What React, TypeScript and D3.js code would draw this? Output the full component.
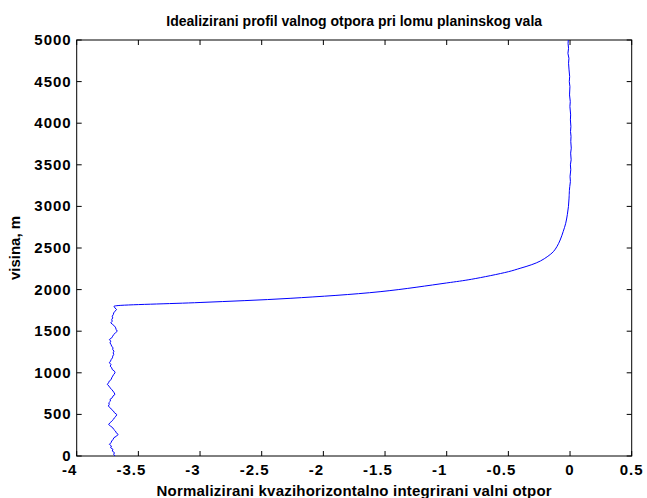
import * as d3 from 'd3';

// tick labels
const xTicks = [-4, -3.5, -3, -2.5, -2, -1.5, -1, -0.5, 0, 0.5];
const yTicks = [0, 500, 1000, 1500, 2000, 2500, 3000, 3500, 4000, 4500, 5000];

// lower, nearly constant part of the profile: height (m) every 20 m, normalized drag
const lowerHeight = d3.range(0, 1800, 20);
const lowerDrag = [
  -3.690, -3.700, -3.694, -3.712, -3.706, -3.725, -3.718, -3.735, -3.722, -3.716,
  -3.705, -3.698, -3.676, -3.664, -3.680, -3.686, -3.700, -3.708, -3.726, -3.742,
  -3.728, -3.716, -3.702, -3.694, -3.680, -3.676, -3.694, -3.702, -3.718, -3.728,
  -3.744, -3.736, -3.740, -3.726, -3.730, -3.712, -3.706, -3.690, -3.696, -3.706,
  -3.716, -3.730, -3.738, -3.752, -3.742, -3.736, -3.720, -3.716, -3.708, -3.700,
  -3.689, -3.694, -3.712, -3.716, -3.728, -3.722, -3.735, -3.726, -3.720, -3.710,
  -3.708, -3.700, -3.704, -3.698, -3.708, -3.706, -3.716, -3.722, -3.730, -3.724,
  -3.735, -3.716, -3.708, -3.700, -3.686, -3.671, -3.680, -3.684, -3.692, -3.708,
  -3.724, -3.712, -3.716, -3.708, -3.712, -3.703, -3.700, -3.690, -3.676, -3.690,
];

// transition above ~1800 m
const curveHeight = [1800, 1806, 1845, 1895, 1975, 2080, 2124, 2215, 2256, 2300, 2344, 2400, 2456, 2520, 2596, 2700, 2797, 2900, 2997, 3100, 3197];
const curveDrag = [-3.698, -3.68, -3.0, -2.27, -1.54, -1.0, -0.8, -0.5, -0.405, -0.31, -0.24, -0.18, -0.135, -0.105, -0.08, -0.055, -0.035, -0.022, -0.013, -0.008, -0.005];

// upper part, close to zero
const upperHeight = [3197, 3240, 3300, 3360, 3440, 3500, 3560, 3640, 3700, 3780, 3840, 3900, 3960, 4040, 4100, 4200, 4260, 4340, 4440, 4500, 4560, 4640, 4720, 4780, 4840, 4900, 4960, 5000];
const upperDrag = [-0.005, -0.002, 0.003, 0.0, 0.006, 0.003, 0.009, 0.005, 0.01, 0.006, 0.008, 0.004, 0.007, 0.003, 0.005, -0.001, 0.002, -0.004, -0.001, -0.006, -0.003, -0.008, -0.012, -0.009, -0.017, -0.012, -0.016, -0.014];

const title = 'Idealizirani profil valnog otpora pri lomu planinskog vala';
const xLabel = 'Normalizirani kvazihorizontalno integrirani valni otpor';
const yLabel = 'visina, m';

export default function App() {
  const width = 647;
  const height = 498;
  const margin = { top: 40, right: 15.3, bottom: 42, left: 76.7 };

  const x = d3.scaleLinear().domain([-4, 0.5]).range([margin.left, width - margin.right]);
  const y = d3.scaleLinear().domain([0, 5000]).range([height - margin.bottom, margin.top]);

  const pairs = (hs: number[], vs: number[]) => hs.map((h, i) => [vs[i], h] as [number, number]);

  const jagged = d3.line<[number, number]>()
    .x(d => x(d[0]))
    .y(d => y(d[1]));
  const smooth = d3.line<[number, number]>()
    .x(d => x(d[0]))
    .y(d => y(d[1]))
    .curve(d3.curveCatmullRom.alpha(0.5));

  const lowerPts = pairs(lowerHeight, lowerDrag);
  lowerPts.push([curveDrag[0], curveHeight[0]]);

  const [x0, x1] = x.range();
  const [y0, y1] = y.range();
  const tick = 5;
  const font = '"Liberation Sans", Arial, Helvetica, sans-serif';

  return (
    <div style={{ position: 'absolute', left: 0, top: 0 }}>
      <svg width={width} height={height} style={{ display: 'block', background: '#fff' }}>
        <rect x={x0} y={y1} width={x1 - x0} height={y0 - y1} fill="none" stroke="#000" strokeWidth={1} />

        {xTicks.map(t => (
          <g key={'x' + t}>
            <line x1={x(t)} x2={x(t)} y1={y0} y2={y0 - tick} stroke="#000" />
            <line x1={x(t)} x2={x(t)} y1={y1} y2={y1 + tick} stroke="#000" />
            <text x={x(t) + (t < 0 ? -7 : 0)} y={y0 + 19} textAnchor="middle"
              fontFamily={font} fontSize={15} fontWeight="bold" letterSpacing={1}>{String(t)}</text>
          </g>
        ))}

        {yTicks.map(t => (
          <g key={'y' + t}>
            <line x1={x0} x2={x0 + tick} y1={y(t)} y2={y(t)} stroke="#000" />
            <line x1={x1} x2={x1 - tick} y1={y(t)} y2={y(t)} stroke="#000" />
            <text x={x0 - 5} y={y(t)} dy="0.33em" textAnchor="end"
              fontFamily={font} fontSize={15} fontWeight="bold" letterSpacing={1}>{String(t)}</text>
          </g>
        ))}

        <g fill="none" stroke="#0000ff" strokeWidth={1}>
          <path d={jagged(lowerPts) ?? ''} />
          <path d={smooth(pairs(curveHeight, curveDrag)) ?? ''} />
          <path d={jagged(pairs(upperHeight, upperDrag)) ?? ''} />
        </g>

        <text x={(x0 + x1) / 2} y={26} textAnchor="middle" fontFamily={font} fontSize={14} fontWeight="bold">{title}</text>
        <text x={(x0 + x1) / 2} y={496} textAnchor="middle" fontFamily={font} fontSize={15} fontWeight="bold" letterSpacing={0.2}>{xLabel}</text>
        <text transform={`translate(20,${(y0 + y1) / 2}) rotate(-90)`} textAnchor="middle"
          fontFamily={font} fontSize={15} fontWeight="bold">{yLabel}</text>
      </svg>
    </div>
  );
}
